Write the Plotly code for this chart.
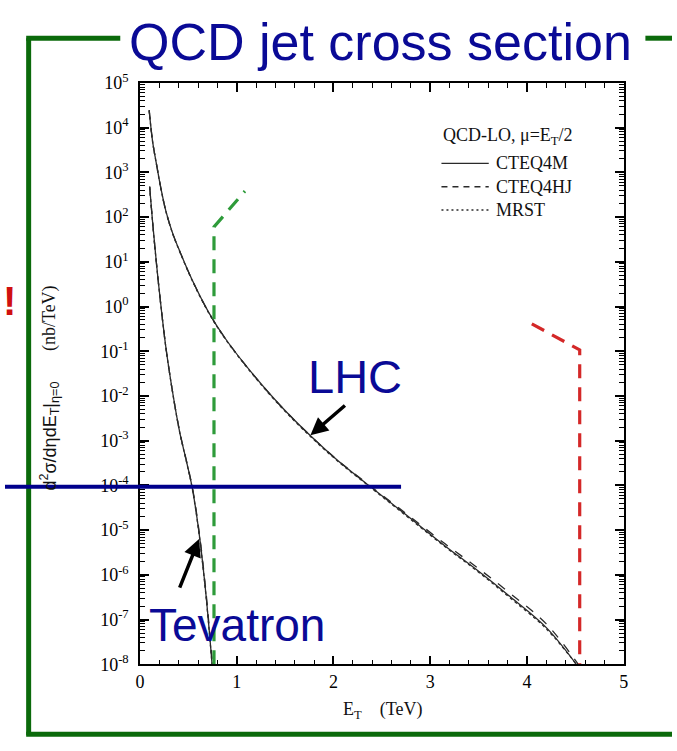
import plotly.graph_objects as go

W, H = 677, 751

# ---- LO inclusive jet cross sections, d2sigma/deta dE_T at eta=0 (nb/TeV) ----
# LHC (14 TeV)
lhc_et = [0.095, 0.13, 0.17, 0.22, 0.27, 0.34, 0.41, 0.54, 0.71, 0.88, 1.15,
          1.46, 1.76, 2.05, 2.37, 2.75, 3.15, 3.5, 3.83, 4.2, 4.51]
lhc_cteq4m = [2.45e4, 5.0e3, 1.55e3, 4.0e2, 1.3e2, 42, 17.4, 3.9, 0.74, 0.195, 3.4e-2,
              5.8e-3, 1.3e-3, 3.5e-4, 9.8e-5, 2.2e-5, 4.5e-6, 1.2e-6, 3.2e-7, 6.6e-8, 1.0e-8]
lhc_hj_et = [0.095, 0.13, 0.17, 0.22, 0.27, 0.34, 0.41, 0.54, 0.71, 0.88, 1.15,
             1.46, 1.76, 2.05, 2.37, 2.75, 3.15, 3.5, 3.83, 4.2, 4.53]
lhc_cteq4hj = [2.45e4, 5.0e3, 1.55e3, 4.0e2, 1.3e2, 42, 17.4, 3.9, 0.74, 0.195, 3.4e-2,
               5.8e-3, 1.3e-3, 3.55e-4, 1.01e-4, 2.35e-5, 5.0e-6, 1.38e-6, 3.8e-7, 8.0e-8, 1.0e-8]
lhc_mrst = [2.4e4, 4.9e3, 1.52e3, 3.9e2, 1.28e2, 41, 17.0, 3.8, 0.72, 0.19, 3.3e-2,
            5.6e-3, 1.25e-3, 3.4e-4, 9.5e-5, 2.1e-5, 4.3e-6, 1.15e-6, 3.0e-7, 6.2e-8, 1.0e-8]

# Tevatron (1.8 TeV)
tev_et = [0.10, 0.13, 0.17, 0.22, 0.27, 0.34, 0.41, 0.48, 0.54, 0.61, 0.68, 0.73, 0.745]
tev_cteq4m = [480, 79, 9.3, 0.89, 0.112, 1.12e-2, 1.58e-3, 3.5e-4, 8.9e-5, 8.9e-6, 4.0e-7, 2.5e-8, 1.0e-8]
tev_hj_et = [0.10, 0.13, 0.17, 0.22, 0.27, 0.34, 0.41, 0.48, 0.54, 0.61, 0.68, 0.73, 0.75]
tev_cteq4hj = [480, 79, 9.3, 0.89, 0.112, 1.13e-2, 1.62e-3, 3.6e-4, 9.4e-5, 9.8e-6, 4.6e-7, 3.0e-8, 1.0e-8]
tev_mrst = [470, 78, 9.1, 0.87, 0.110, 1.1e-2, 1.55e-3, 3.4e-4, 8.6e-5, 8.5e-6, 3.8e-7, 2.4e-8, 1.0e-8]

# Kinematic reach markers
tev_reach_et = [0.765, 0.765, 1.085]
tev_reach_xs = [1.0e-8, 60, 380]
lhc_reach_et = [4.05, 4.545, 4.545]
lhc_reach_xs = [0.41, 0.107, 1.0e-8]

x_ticks = [0, 1, 2, 3, 4, 5]
y_decades = list(range(-8, 6))
y_ticktext = ["10<sup>%d</sup>" % d for d in y_decades]

# plot-area edges in pixels
PL, PR, PT, PB = 137, 628, 73, 672


def px(x):
    return x / W


def py(y):
    return 1 - y / H


SERIF = "Liberation Serif, Times New Roman, serif"
SANS = "Liberation Sans, Arial, sans-serif"
NAVY = "#0A0A96"
CURVE = "#2a2a2a"

fig = go.Figure()

styles = [("solid", "CTEQ4M"), ("dash", "CTEQ4HJ"), ("dot", "MRST")]
lhc_sets = [(lhc_et, lhc_cteq4m), (lhc_hj_et, lhc_cteq4hj), (lhc_et, lhc_mrst)]
tev_sets = [(tev_et, tev_cteq4m), (tev_hj_et, tev_cteq4hj), (tev_et, tev_mrst)]

for (dash, name), (xe, ys) in zip(styles, lhc_sets):
    fig.add_trace(go.Scatter(x=xe, y=ys, mode="lines", name=name, showlegend=False,
                             line=dict(color=CURVE, width=1.3, dash=dash, shape="spline")))
for (dash, name), (xe, ys) in zip(styles, tev_sets):
    fig.add_trace(go.Scatter(x=xe, y=ys, mode="lines", name=name, showlegend=False,
                             line=dict(color=CURVE, width=1.3, dash=dash, shape="spline")))

fig.add_trace(go.Scatter(x=tev_reach_et, y=tev_reach_xs, mode="lines", showlegend=False,
                         line=dict(color="#2E9B3A", width=3.2, dash="14px,9px")))
fig.add_trace(go.Scatter(x=lhc_reach_et, y=lhc_reach_xs, mode="lines", showlegend=False,
                         line=dict(color="#D42828", width=3.2, dash="14px,9px")))

# transparent copy on the overlay axes so the minor-tick axes get drawn
fig.add_trace(go.Scatter(x=lhc_et, y=lhc_cteq4m, mode="lines", showlegend=False,
                         xaxis="x2", yaxis="y2", hoverinfo="skip",
                         line=dict(color="rgba(0,0,0,0)", width=0)))

axis_common = dict(
    showline=True, linecolor="black", linewidth=1.5, mirror="allticks",
    ticks="inside", tickcolor="black", showgrid=False, zeroline=False,
)

x_minor = [i / 5 for i in range(26) if i % 5]
y_minor = [m * 10.0 ** d for d in range(-8, 5) for m in range(2, 10)]

fig.update_layout(
    width=W, height=H, autosize=False,
    margin=dict(l=0, r=0, t=0, b=0),
    paper_bgcolor="white", plot_bgcolor="white",
    showlegend=False,
    xaxis=dict(domain=[px(PL), px(PR)], range=[0, 5], tickvals=x_ticks,
               ticklen=9, tickwidth=1.6,
               tickfont=dict(family=SERIF, size=18, color="#000"), **axis_common),
    yaxis=dict(type="log", domain=[py(PB), py(PT)], range=[-8, 5],
               tickvals=[10.0 ** d for d in y_decades], ticktext=y_ticktext,
               ticklabelstandoff=6, ticklen=9, tickwidth=1.6,
               tickfont=dict(family=SERIF, size=18, color="#000"), **axis_common),
    # minor ticks
    xaxis2=dict(domain=[px(PL), px(PR)], range=[0, 5], tickvals=x_minor,
                overlaying="x", anchor="y2", showticklabels=False,
                ticklen=5, tickwidth=1.2, **axis_common),
    yaxis2=dict(type="log", domain=[py(PB), py(PT)], range=[-8, 5], tickvals=y_minor,
                overlaying="y", anchor="x2", showticklabels=False,
                ticklen=5, tickwidth=1.2, **axis_common),
)

line = lambda x0, y0, x1, y1, color, w, dash="solid": dict(
    type="line", xref="paper", yref="paper",
    x0=px(x0), y0=py(y0), x1=px(x1), y1=py(y1),
    line=dict(color=color, width=w, dash=dash),
)

GREEN = "#0B6A0B"
shapes = [
    # slide frame
    line(24, 27, 24, 745, GREEN, 5),
    line(21.5, 27, 117, 27, GREEN, 5),
    line(650, 27, 677, 27, GREEN, 5),
    line(21.5, 744, 677, 744, GREEN, 5),
    # 10^-4 guide line
    line(0, 489, 402, 489, "#00008C", 4),
    # legend samples
    line(443, 156, 491, 156, CURVE, 1.3),
    line(443, 180, 491, 180, CURVE, 1.3, "6px,5px"),
    line(443, 204, 491, 204, CURVE, 1.3, "2px,3px"),
]
fig.update_layout(shapes=shapes)


def text(x, y, s, size, color="black", family=SERIF, xanchor="center", angle=0, **kw):
    return dict(xref="paper", yref="paper", x=px(x), y=py(y), text=s, showarrow=False,
                xanchor=xanchor, yanchor="middle", textangle=angle,
                font=dict(family=family, size=size, color=color), **kw)


annotations = [
    text(381, 31, "QCD jet cross section", 52, NAVY, SANS, bgcolor="white"),
    text(5, 298, "<b>!</b>", 40, "#D01010", SANS),
    text(355, 375, "LHC", 47, NAVY, SANS),
    text(235, 632, "Tevatron", 46, NAVY, SANS),
    # axis titles
    text(383, 720, "E<sub>T</sub>    (TeV)", 18, "#111"),
    text(45, 315, "(nb/TeV)", 18, "#111", angle=-90),
    text(45, 437, "d<sup>2</sup>σ/dηdE<sub>T</sub>|<sub>η=0</sub>", 18, "#111", SANS, angle=-90),
    # legend
    text(443, 128, "QCD-LO, μ=E<sub>T</sub>/2", 18, "#111", xanchor="left"),
    text(496, 156, "CTEQ4M", 18, "#111", xanchor="left"),
    text(496, 180, "CTEQ4HJ", 18, "#111", xanchor="left"),
    text(496, 204, "MRST", 18, "#111", xanchor="left"),
]

# pointer arrows
for tip, tail in [((310, 436), (346, 405)), ((197, 543), (177, 593))]:
    annotations.append(dict(
        xref="paper", yref="paper", x=px(tip[0]), y=py(tip[1]),
        axref="pixel", ayref="pixel", ax=tail[0] - tip[0], ay=tail[1] - tip[1],
        text="", showarrow=True, arrowhead=2, arrowsize=1.0, arrowwidth=3.5,
        arrowcolor="black",
    ))

fig.update_layout(annotations=annotations)

fig.write_html("out.html")
